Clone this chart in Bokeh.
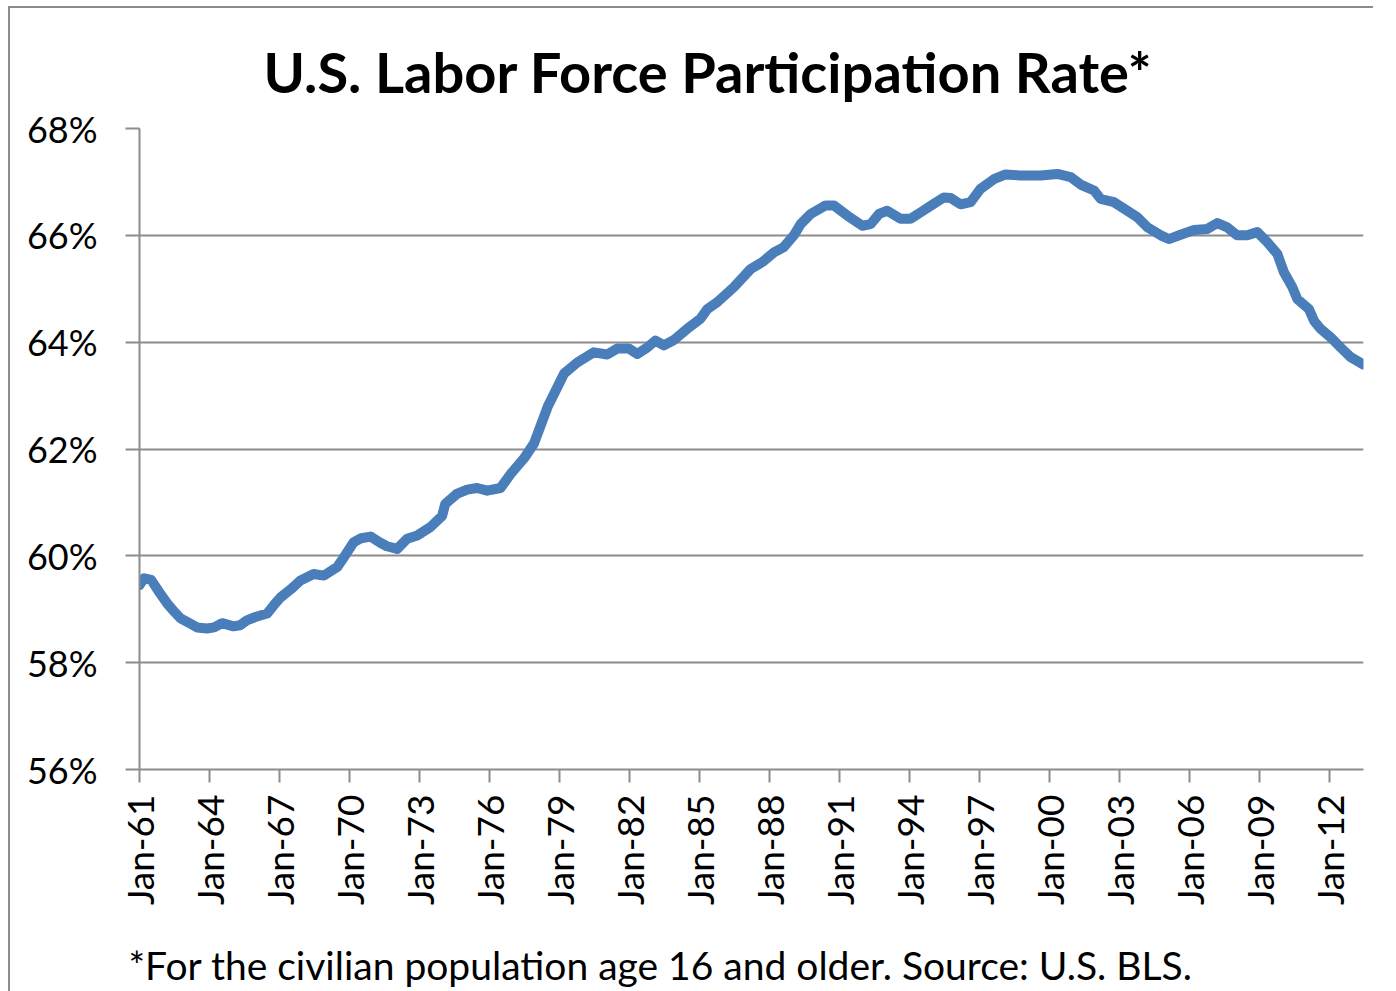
from bokeh.plotting import figure
from bokeh.models import Range1d, FixedTicker, Title
from bokeh.embed import file_html
from bokeh.resources import INLINE

# Decimal years and participation rate (%)
years = [1961.0, 1961.2, 1961.5, 1961.8, 1962.2, 1962.5, 1962.76, 1963.1, 1963.47, 1963.9,
         1964.2, 1964.54, 1965.03, 1965.3, 1965.6, 1966.0, 1966.47, 1966.8, 1967.04, 1967.5,
         1967.9, 1968.46, 1968.9, 1969.47, 1969.8, 1970.17, 1970.5, 1970.9, 1971.3, 1971.6,
         1972.04, 1972.47, 1972.9, 1973.47, 1973.97, 1974.1, 1974.6, 1975.04, 1975.47, 1975.9,
         1976.47, 1976.9, 1977.47, 1977.9, 1978.2, 1978.5, 1978.83, 1979.19, 1979.76, 1980.47,
         1981.04, 1981.47, 1981.97, 1982.33, 1982.76, 1983.11, 1983.47, 1983.9, 1984.47, 1985.04,
         1985.33, 1985.76, 1986.47, 1987.19, 1987.69, 1988.19, 1988.61, 1989.04, 1989.33, 1989.76,
         1990.4, 1990.76, 1991.33, 1991.97, 1992.33, 1992.69, 1993.04, 1993.61, 1994.04, 1994.47,
         1995.04, 1995.47, 1995.76, 1996.19, 1996.61, 1997.04, 1997.61, 1998.11, 1998.76, 1999.61,
         2000.33, 2000.9, 2001.33, 2001.9, 2002.19, 2002.76, 2003.33, 2003.76, 2004.19, 2004.76,
         2005.11, 2005.61, 2006.19, 2006.76, 2007.19, 2007.61, 2008.04, 2008.47, 2008.9, 2009.33,
         2009.76, 2010.04, 2010.4, 2010.61, 2011.11, 2011.33, 2011.61, 2012.04, 2012.47, 2012.9,
         2013.45]
rate = [59.45, 59.58, 59.55, 59.35, 59.1, 58.95, 58.83, 58.75, 58.66, 58.64,
        58.66, 58.74, 58.68, 58.7, 58.79, 58.86, 58.92, 59.1, 59.22, 59.38,
        59.54, 59.66, 59.63, 59.79, 60.0, 60.25, 60.33, 60.36, 60.25, 60.18,
        60.13, 60.32, 60.38, 60.54, 60.75, 60.97, 61.16, 61.24, 61.27, 61.22,
        61.27, 61.53, 61.82, 62.10, 62.45, 62.8, 63.09, 63.41, 63.62, 63.81,
        63.77, 63.88, 63.88, 63.78, 63.9, 64.03, 63.94, 64.04, 64.25, 64.44,
        64.62, 64.75, 65.03, 65.37, 65.5, 65.68, 65.78, 66.0, 66.21, 66.4,
        66.56, 66.56, 66.37, 66.18, 66.21, 66.4, 66.46, 66.31, 66.31, 66.43,
        66.59, 66.71, 66.70, 66.58, 66.62, 66.87, 67.05, 67.14, 67.12, 67.12,
        67.15, 67.09, 66.95, 66.84, 66.68, 66.62, 66.46, 66.34, 66.15, 66.0,
        65.93, 66.01, 66.10, 66.12, 66.23, 66.15, 66.0, 66.0, 66.06, 65.87,
        65.65, 65.31, 65.03, 64.81, 64.62, 64.40, 64.25, 64.09, 63.9, 63.72,
        63.58]

x_ticks = [1961, 1964, 1967, 1970, 1973, 1976, 1979, 1982, 1985, 1988,
           1991, 1994, 1997, 2000, 2003, 2006, 2009, 2012]
x_labels = ["Jan-61", "Jan-64", "Jan-67", "Jan-70", "Jan-73", "Jan-76", "Jan-79", "Jan-82",
            "Jan-85", "Jan-88", "Jan-91", "Jan-94", "Jan-97", "Jan-00", "Jan-03", "Jan-06",
            "Jan-09", "Jan-12"]
y_ticks = [56, 58, 60, 62, 64, 66, 68]
y_labels = ["56%", "58%", "60%", "62%", "64%", "66%", "68%"]

title_text = "U.S. Labor Force Participation Rate*"
note_text = "*For the civilian population age 16 and older.  Source: U.S. BLS."

FONT = "Lato"
GRAY = "#8c8c8c"

p = figure(frame_width=1224, frame_height=641, output_backend="svg", toolbar_location=None,
           x_range=Range1d(years[0], years[-1]), y_range=Range1d(56, 68),
           min_border_left=129, min_border_right=10, min_border_top=120, min_border_bottom=10)
p.styles = {"margin-left": "8px", "margin-top": "6px", "margin-bottom": "-80px",
            "border-left": "2px solid #8c8c8c", "border-top": "2px solid #8c8c8c"}
p.outline_line_color = None
p.background_fill_color = "white"
p.border_fill_color = "white"

p.line(years, rate, line_color="#4a7ebb", line_width=10, line_cap="round", line_join="round")

# Title (above) and footnote (below)
p.title.text = title_text
p.title.align = "left"
p.title.offset = 124
p.title.standoff = 47
p.title.text_font = FONT
p.title.text_font_style = "bold"
p.title.text_font_size = "56px"
p.title.text_color = "black"

note = Title(text=note_text, align="left", offset=-11, standoff=62,
             text_font=FONT, text_font_style="normal", text_font_size="39px",
             text_color="black")
p.add_layout(note, "below")

# Y axis
p.yaxis.ticker = FixedTicker(ticks=y_ticks)
p.yaxis.major_label_overrides = {t: l for t, l in zip(y_ticks, y_labels)}
p.yaxis.major_label_text_font = FONT
p.yaxis.major_label_text_font_size = "36px"
p.yaxis.major_label_text_color = "black"
p.yaxis.major_tick_in = 0
p.yaxis.major_tick_out = 14
p.yaxis.minor_tick_line_color = None
p.yaxis.major_label_standoff = 28
p.yaxis.axis_line_color = GRAY
p.yaxis.axis_line_width = 2
p.yaxis.major_tick_line_color = GRAY
p.yaxis.major_tick_line_width = 2

# X axis
p.xaxis.ticker = FixedTicker(ticks=x_ticks)
p.xaxis.major_label_overrides = {t: l for t, l in zip(x_ticks, x_labels)}
p.xaxis.major_label_orientation = 1.5707963
p.xaxis.major_label_text_font = FONT
p.xaxis.major_label_text_font_size = "37px"
p.xaxis.major_label_text_color = "black"
p.xaxis.major_tick_in = 0
p.xaxis.major_tick_out = 13
p.xaxis.minor_tick_line_color = None
p.xaxis.major_label_standoff = 12
p.xaxis.axis_line_color = GRAY
p.xaxis.axis_line_width = 2
p.xaxis.major_tick_line_color = GRAY
p.xaxis.major_tick_line_width = 2

p.xgrid.grid_line_color = None
p.ygrid.ticker = FixedTicker(ticks=y_ticks)
p.ygrid.grid_line_color = GRAY
p.ygrid.grid_line_width = 2

open("out.html", "w").write(file_html(p, INLINE))
